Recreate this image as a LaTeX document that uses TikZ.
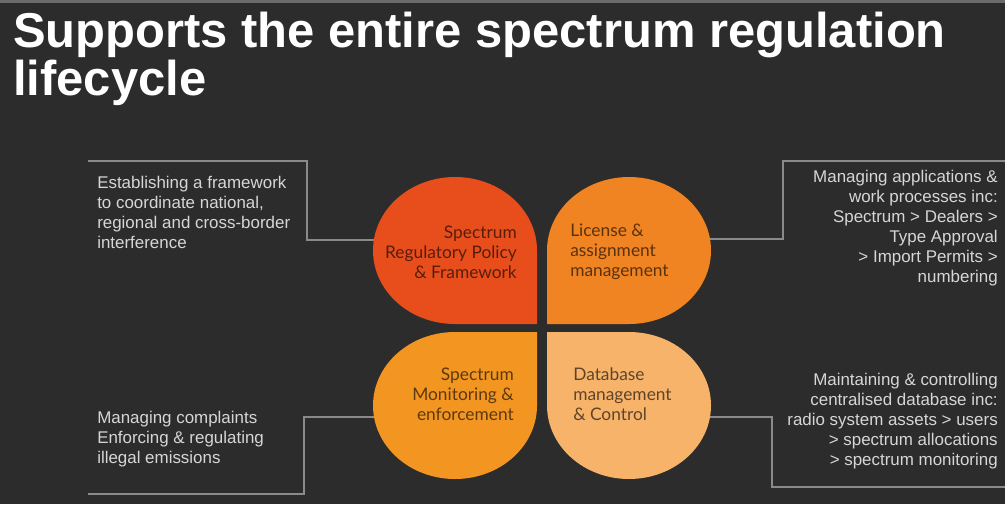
\documentclass[tikz,border=0pt]{standalone}
\usepackage{fontspec}
\setmainfont{Liberation Sans}
\newfontfamily\petalfont{Lato}
\usetikzlibrary{positioning}
\definecolor{slidebg}{HTML}{2C2C2C}
\definecolor{slidetop}{HTML}{6A6A6A}
\definecolor{linkgray}{HTML}{8A8A8A}
\definecolor{notegray}{HTML}{D6D6D6}
\definecolor{petalred}{HTML}{E84E1C}
\definecolor{petalorange}{HTML}{F08322}
\definecolor{petalamber}{HTML}{F39621}
\definecolor{petalsand}{HTML}{F7B36A}

\begin{document}
\begin{tikzpicture}[x=0.75pt,y=-0.75pt,
  title/.style={inner sep=0pt,align=left,text=white,
                font={\bfseries\fontsize{36.7pt}{36pt}\selectfont}},
  lbl/.style={inner sep=0pt,font={\petalfont\fontsize{13pt}{15pt}\selectfont},
              text=black,text opacity=.62},
  note/.style={inner sep=0pt,text=notegray,
               font={\fontsize{12.7pt}{15pt}\selectfont}},
  link/.style={draw=linkgray,line width=2pt}]
  % background
  \fill[slidebg] (0,0) rectangle (1005,504);
  \fill[slidetop] (0,0) rectangle (1005,3);
  \useasboundingbox (0,0) rectangle (1005,504);
  \node[title,anchor=north west] (head) at (13,12)
    {Supports the entire spectrum regulation\\lifecycle};
  % connector ends
  \coordinate (policy-w) at (378,240);
  \coordinate (licence-e) at (707,239);
  \coordinate (monitor-w) at (378,417);
  \coordinate (database-e) at (707,417);
  \coordinate (policy-end) at (88,161);
  \coordinate (licence-end) at (1005,161);
  \coordinate (monitor-end) at (88,494);
  \coordinate (database-end) at (1005,487);
  \draw[link] (policy-w) -- ++(-71,0) |- (policy-end);
  \draw[link] (licence-e) -- ++(76,0) |- (licence-end);
  \draw[link] (monitor-w) -- ++(-74,0) |- (monitor-end);
  \draw[link] (database-e) -- ++(65,0) |- (database-end);
  % petals
  \foreach \xs/\ys/\col in {1/1/petalred,-1/1/petalorange,
                            1/-1/petalamber,-1/-1/petalsand}
    \fill[\col,shift={(542,328)},xscale=\xs,yscale=\ys]
      (-5,-4) -- (-87,-4) arc[start angle=90,end angle=360,
      x radius=82,y radius=73.5] -- cycle;
  \node[lbl,align=right,anchor=east] (policy) at (517,252)
    {Spectrum\\Regulatory Policy\\\& Framework};
  \node[lbl,align=left,anchor=west] (licence) at (570,252)
    {License \&\\assignment\\management};
  \node[lbl,align=right,anchor=east] (monitor) at (514,394)
    {Spectrum\\Monitoring \&\\enforcement};
  \node[lbl,align=left,anchor=west] (database) at (573,394)
    {Database\\management\\\& Control};
  % notes
  \node[note,align=left,anchor=west] (policy-note) at (97,212)
    {Establishing a framework\\to coordinate national,\\regional and cross-border\\interference};
  \node[note,align=right,anchor=east] (licence-note) at (998,228)
    {Managing applications \&\\work processes inc:\\Spectrum > Dealers >\\Type Approval\\> Import Permits >\\numbering};
  \node[note,align=left,anchor=west] (monitor-note) at (97,439)
    {Managing complaints\\Enforcing \& regulating\\illegal emissions};
  \node[note,align=right,anchor=east] (database-note) at (998,421)
    {Maintaining \& controlling\\centralised database inc:\\radio system assets > users\\> spectrum allocations\\> spectrum monitoring};
\end{tikzpicture}
\end{document}
